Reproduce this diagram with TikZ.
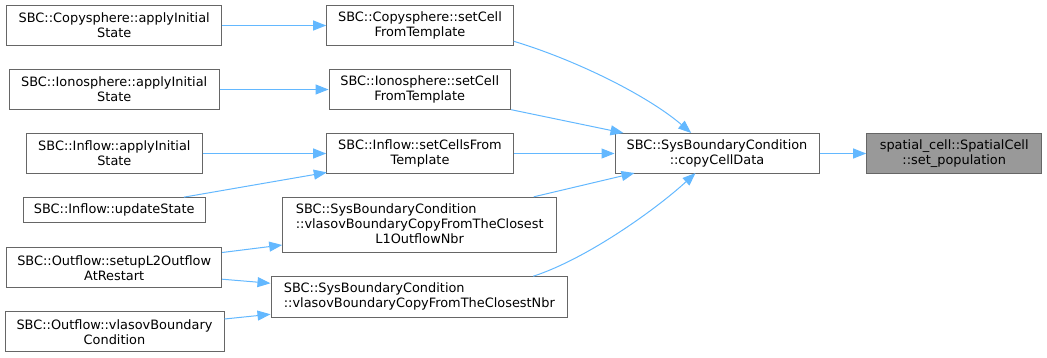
\documentclass[tikz,border=0pt]{standalone}
\usepackage{fontspec}
\setmainfont{DejaVu Sans}
\usetikzlibrary{arrows.meta,calc}
\definecolor{edgeblue}{HTML}{63B8FF}
\definecolor{boxgray}{HTML}{666666}
\definecolor{hlgray}{HTML}{999999}
\begin{document}
\begin{tikzpicture}[x=1pt,y=-1pt,
  box/.style={draw=boxgray, line width=1pt, rectangle, inner sep=0pt, align=center,
    font=\fontsize{12.9}{15}\selectfont, text=black},
  hlbox/.style={box, fill=hlgray},
  conn/.style={draw=edgeblue, line width=1pt, -{Triangle[length=13pt,width=10pt]}}
]
\useasboundingbox (0,0) rectangle (1047,357);

% left column
\node[box, minimum width=215, minimum height=40] (n1) at (114.2,25.5) {SBC::Copysphere::applyInitial\\State};
\node[box, minimum width=209.7, minimum height=40] (n2) at (114.2,89.5) {SBC::Ionosphere::applyInitial\\State};
\node[box, minimum width=175.3, minimum height=40] (n3) at (114.35,153.5) {SBC::Inflow::applyInitial\\State};
\node[box, minimum width=181.7, minimum height=25.3] (n4) at (114.2,210.3) {SBC::Inflow::updateState};
\node[box, minimum width=215, minimum height=40] (n5) at (114.2,267.7) {SBC::Outflow::setupL2Outflow\\AtRestart};
\node[box, minimum width=219, minimum height=40] (n6) at (114.5,331.8) {SBC::Outflow::vlasovBoundary\\Condition};

% middle column
\node[box, minimum width=186.6, minimum height=40] (n7) at (420,25.5) {SBC::Copysphere::setCell\\FromTemplate};
\node[box, minimum width=181.3, minimum height=40] (n8) at (419.7,89.5) {SBC::Ionosphere::setCell\\FromTemplate};
\node[box, minimum width=186.6, minimum height=40] (n9) at (420,153.5) {SBC::Inflow::setCellsFrom\\Template};
\node[box, minimum width=274, minimum height=54.8] (n10) at (419.7,225.1)
  {\begin{tabular}{@{}l@{}}SBC::SysBoundaryCondition\\::vlasovBoundaryCopyFromTheClosest\\\multicolumn{1}{@{}c@{}}{L1OutflowNbr}\end{tabular}};
\node[box, align=left, minimum width=296.7, minimum height=40.7] (n11) at (419.35,296.7)
  {SBC::SysBoundaryCondition\\::vlasovBoundaryCopyFromTheClosestNbr};

% right
\node[box, minimum width=204, minimum height=40] (n12) at (717,153.5) {SBC::SysBoundaryCondition\\::copyCellData};
\node[hlbox, minimum width=175, minimum height=40] (n13) at (954.2,153.5) {spatial\_cell::SpatialCell\\::set\_population};

% connectors
\draw[conn] (n1.east) -- (n7.west);
\draw[conn] (n2.east) -- (n8.west);
\draw[conn] (n3.east) -- (n9.west);
\draw[conn] ($(n4.north east)+(-21.7,0)$) -- ($(n9.south west)+(0.6,-1.6)$);
\draw[conn] ($(n5.north east)+(0,5.3)$) -- ($(n10.south west)+(0,-8)$);
\draw[conn] ($(n5.south east)+(0,-9)$) -- ($(n11.north west)+(0,7.4)$);
\draw[conn] ($(n6.north east)+(0,7.7)$) -- ($(n11.south west)+(0,-3.3)$);

\draw[conn] ($(n7.south east)+(0,-4.7)$) .. controls ($(n7.south east)+(60,13.3)$) and ($(n12.north west)+(32,-38.3)$) .. ($(n12.north west)+(76.7,0)$);
\draw[conn] ($(n8.south east)+(0.4,-0.3)$) -- ($(n12.north west)+(9,0)$);
\draw[conn] (n9.east) -- (n12.west);
\draw[conn] ($(n10.north east)+(-23.4,-0.4)$) -- ($(n12.south west)+(20,-1)$);
\draw[conn] ($(n11.north east)+(-35,0.4)$) .. controls ($(n11.north east)+(20,-17.6)$) and ($(n12.south west)+(43,34)$) .. ($(n12.south west)+(81,-1)$);

\draw[conn] (n12.east) -- (n13.west);
\end{tikzpicture}
\end{document}
